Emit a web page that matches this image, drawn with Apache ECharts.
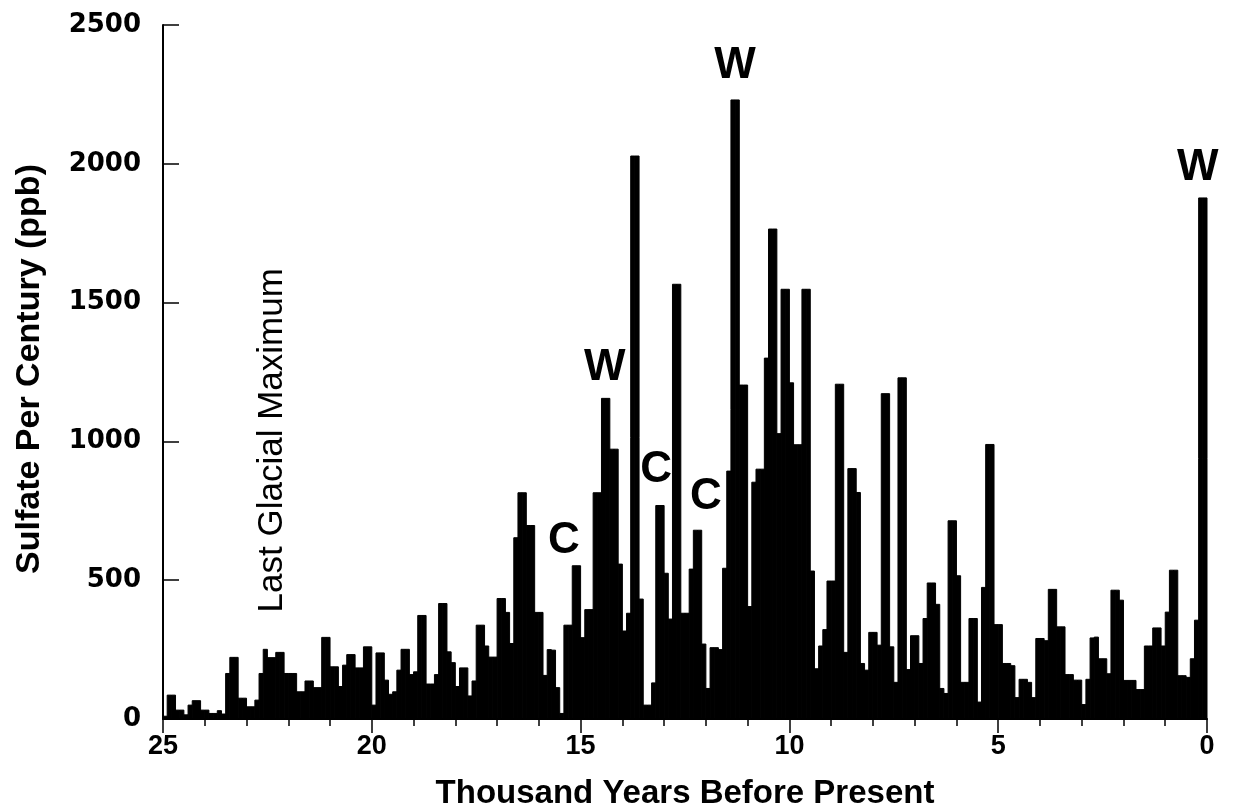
<!DOCTYPE html>
<html><head><meta charset="utf-8">
<script src="https://cdn.jsdelivr.net/npm/echarts@6/dist/echarts.min.js"></script>
<style>html,body{margin:0;padding:0;background:#fff}#c{width:1233px;height:812px}</style>
</head><body><div id="c"></div>
<script>
// one bar per century, from 25 kyr BP (left) to present (right)
const startKyr = 25;
const stepKyr = 0.1;
const sulfate = [
 10,86,86,32,32,15,50,66,66,32,
 32,20,20,30,18,164,222,222,75,75,
 44,44,68,164,251,221,221,240,240,164,
 164,164,98,98,137,137,113,113,294,294,
 188,188,117,194,232,232,184,184,260,260,
 50,238,238,140,89,98,176,251,251,160,
 170,373,373,126,126,160,416,416,242,203,
 117,184,184,83,137,338,338,263,223,223,
 434,434,384,272,653,815,815,697,697,384,
 384,157,250,248,113,20,338,338,552,552,
 293,394,394,815,815,1155,1155,972,972,558,
 317,381,2028,2028,432,50,50,130,769,769,
 525,360,1566,1566,381,381,540,680,680,270,
 110,257,257,250,543,893,2230,2230,1203,1203,
 405,853,900,900,1300,1765,1765,1028,1548,1548,
 1211,988,988,1548,1548,533,181,263,322,497,
 497,1206,1206,240,902,902,816,200,176,312,
 312,266,1172,1172,260,132,1229,1229,178,300,
 300,200,362,490,490,413,110,92,714,714,
 516,132,132,362,362,61,474,989,989,340,
 340,200,200,192,77,143,143,132,77,290,
 290,282,467,467,332,332,160,160,140,140,
 52,143,292,295,217,217,163,464,464,428,
 139,139,139,106,106,263,263,328,328,263,
 385,536,536,156,156,150,217,356,1877,1877
];
const xTickValues = [25,20,15,10,5,0];
const yTickValues = [0,500,1000,1500,2000,2500];
const noteText = ['W','C','C','C','W','W'];
const noteKyr  = [14.42,15.4,13.19,12.0,11.3,0.22];
const notePpb  = [1264,641,896,799,2354,1984];
const periodText = ['Last Glacial Maximum'];
const periodKyr = [22.39];
const periodPpb = [1004];

const barData = sulfate.map((v,i)=>[startKyr - i*stepKyr, startKyr-(i+1)*stepKyr, v]);

const chart = echarts.init(document.getElementById('c'), null, {renderer:'canvas'});
chart.setOption({
  animation:false,
  backgroundColor:'#fff',
  grid:{left:163,right:26,top:25,bottom:93,containLabel:false},
  xAxis:{type:'value',inverse:true,min:0,max:25,interval:5,position:'bottom',
    axisLine:{show:true,onZero:false,lineStyle:{color:'#000',width:2}},
    axisTick:{show:true,inside:false,length:14,lineStyle:{color:'#000',width:1.5}},
    minorTick:{show:true,splitNumber:5,length:7,lineStyle:{color:'#000',width:1.5}},
    splitLine:{show:false},minorSplitLine:{show:false},
    axisLabel:{color:'#000',fontFamily:'Liberation Sans',fontWeight:'bold',fontSize:27,margin:14,
      formatter:v=>xTickValues.includes(v)?String(v):''}
  },
  yAxis:{type:'value',min:0,max:2500,interval:500,position:'left',
    axisLine:{show:true,onZero:false,lineStyle:{color:'#000',width:2}},
    axisTick:{show:true,inside:true,length:16,lineStyle:{color:'#000',width:1.5}},
    splitLine:{show:false},
    axisLabel:{color:'#000',fontFamily:'DejaVu Sans',fontWeight:'bold',fontSize:26,margin:22,
      formatter:v=>yTickValues.includes(v)?String(v):''}
  },
  graphic:[
    {type:'text',x:30,y:369,rotation:Math.PI/2,
      style:{text:'Sulfate Per Century (ppb)',fontFamily:'Liberation Sans',fontWeight:'bold',fontSize:34,fill:'#000',align:'center',verticalAlign:'middle'}},
    {type:'text',x:685,y:794,
      style:{text:'Thousand Years Before Present',fontFamily:'Liberation Sans',fontWeight:'bold',fontSize:33,fill:'#000',align:'center',verticalAlign:'middle'}}
  ],
  series:[
    {type:'custom',coordinateSystem:'cartesian2d',encode:{x:[0,1],y:2},
      renderItem:(params,api)=>{
        const p1 = api.coord([api.value(0), api.value(2)]);
        const p0 = api.coord([api.value(1), 0]);
        return {type:'rect',shape:{x:p1[0],y:p1[1],width:p0[0]-p1[0],height:p0[1]-p1[1]},
          style:{fill:'#000',stroke:'#000',lineWidth:1}};
      },
      data:barData,z:2},
    {type:'scatter',symbolSize:0,z:5,itemStyle:{opacity:1},
      data:noteText.map((t,i)=>({value:[noteKyr[i],notePpb[i]],name:t})),
      label:{show:true,position:'inside',formatter:p=>p.name,color:'#000',opacity:1,
        fontFamily:'Liberation Sans',fontWeight:'bold',fontSize:44}},
    {type:'scatter',symbolSize:0,z:5,itemStyle:{opacity:1},
      data:periodText.map((t,i)=>({value:[periodKyr[i],periodPpb[i]],name:t})),
      label:{show:true,position:'inside',rotate:90,formatter:p=>p.name,color:'#000',opacity:1,
        fontFamily:'Liberation Sans',fontSize:35}}
  ]
});
</script></body></html>
